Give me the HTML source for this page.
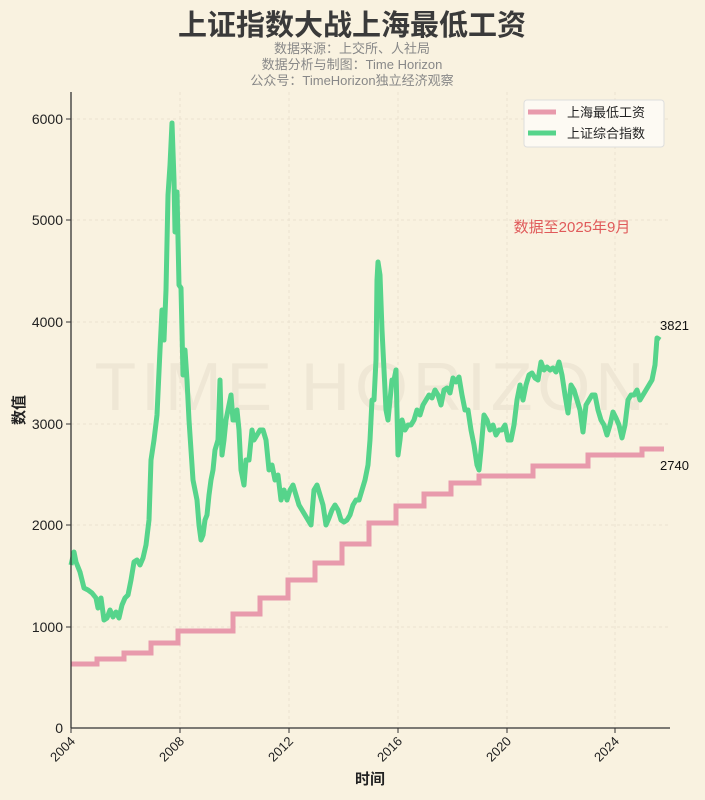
<!DOCTYPE html><html><head><meta charset="utf-8"><style>
body{margin:0;background:#f9f2e0;}
svg{display:block;font-family:"Liberation Sans","Noto Sans CJK SC",sans-serif;}
</style></head><body>
<svg width="705" height="800" viewBox="0 0 705 800">
<rect width="705" height="800" fill="#f9f2e0"/>
<text x="352" y="35" text-anchor="middle" font-size="29" font-weight="bold" fill="#3a3a3a">上证指数大战上海最低工资</text>
<text x="352" y="53" text-anchor="middle" font-size="13" fill="#888">数据来源：上交所、人社局</text>
<text x="352" y="69" text-anchor="middle" font-size="13" fill="#888">数据分析与制图：Time Horizon</text>
<text x="352" y="85" text-anchor="middle" font-size="13" fill="#888">公众号：TimeHorizon独立经济观察</text>
<g stroke="#ebe2d0" stroke-dasharray="3,3" stroke-width="1">
<line x1="71" x2="670" y1="627" y2="627"/><line x1="71" x2="670" y1="525" y2="525"/><line x1="71" x2="670" y1="424" y2="424"/><line x1="71" x2="670" y1="322" y2="322"/><line x1="71" x2="670" y1="220" y2="220"/><line x1="71" x2="670" y1="119" y2="119"/>
<line x1="180" x2="180" y1="92" y2="728"/><line x1="289" x2="289" y1="92" y2="728"/><line x1="398" x2="398" y1="92" y2="728"/><line x1="507" x2="507" y1="92" y2="728"/><line x1="615" x2="615" y1="92" y2="728"/>
</g>
<text x="372" y="410" text-anchor="middle" font-size="68" fill="#efe7d5" letter-spacing="5">TIME HORIZON</text>
<polyline fill="none" stroke="#e89aac" stroke-width="5" points="71,664 97,664 97,659 124,659 124,653 151,653 151,643 178,643 178,631 233,631 233,614 260,614 260,598 288,598 288,580 315,580 315,563 342,563 342,544 369,544 369,523 396,523 396,506 424,506 424,494 451,494 451,483 479,483 479,476 533,476 533,466 588,466 588,455 642,455 642,449 664,449"/>
<polyline fill="none" stroke="#56d48b" stroke-width="5" stroke-linejoin="round" points="71,565 74,552 76,562 80,572 84,588 88,590 92,593 96,598 98,608 101,598 104,620 107,618 110,610 113,617 116,612 119,618 122,605 125,598 128,595 131,580 134,562 137,560 140,565 143,558 146,545 149,520 151,460 154,440 157,415 160,350 162,310 164,340 166,290 168,195 170,165 172,123 174,180 175,232 177,192 179,285 181,288 183,375 185,350 187,380 189,420 191,450 193,480 195,490 197,500 199,525 201,540 203,535 205,520 207,515 209,495 211,480 213,470 215,450 218,440 220,380 222,455 224,440 226,420 228,410 231,395 233,420 235,420 237,410 239,430 241,470 244,485 246,460 249,460 252,430 254,440 257,435 260,430 263,430 266,440 269,470 272,465 275,480 278,475 281,500 284,490 287,500 290,490 293,485 296,495 299,505 302,510 305,515 308,520 311,525 314,490 317,485 320,495 323,505 326,525 329,518 332,510 335,505 338,510 341,520 344,522 347,520 350,515 353,505 356,500 359,500 362,490 365,480 368,465 370,440 372,400 374,400 376,360 377,280 378,262 380,275 382,330 384,370 386,410 388,420 390,400 392,380 394,380 396,370 398,455 400,440 402,420 405,430 408,425 411,425 414,420 417,410 420,415 423,405 426,400 429,395 432,398 435,390 438,395 441,405 444,390 447,388 450,393 453,378 456,382 459,377 462,395 465,410 468,410 471,430 474,445 477,465 479,470 481,450 484,415 487,420 490,430 493,425 496,435 499,430 502,430 505,425 508,440 511,440 514,425 517,400 520,385 523,400 526,385 529,375 532,373 535,378 538,380 541,362 544,370 547,367 550,370 553,368 556,372 559,362 562,375 565,395 568,413 571,385 574,390 577,400 580,410 583,432 586,405 589,400 592,395 595,395 598,410 601,420 604,425 607,435 610,425 613,412 616,418 619,425 622,438 625,425 628,400 631,395 634,395 637,390 640,400 643,395 646,390 649,385 652,380 655,365 657,338 660,340"/>
<line x1="71" y1="92" x2="71" y2="728" stroke="#333" stroke-width="1.3"/>
<line x1="71" y1="728" x2="670" y2="728" stroke="#333" stroke-width="1.3"/>
<g font-size="14" fill="#222" text-anchor="end">
<text x="63" y="733">0</text><text x="63" y="632">1000</text><text x="63" y="530">2000</text><text x="63" y="429">3000</text><text x="63" y="327">4000</text><text x="63" y="225">5000</text><text x="63" y="124">6000</text>
</g>
<g stroke="#333"><line x1="66" x2="71" y1="627" y2="627"/><line x1="66" x2="71" y1="525" y2="525"/><line x1="66" x2="71" y1="424" y2="424"/><line x1="66" x2="71" y1="322" y2="322"/><line x1="66" x2="71" y1="220" y2="220"/><line x1="66" x2="71" y1="119" y2="119"/>
<line x1="71" x2="71" y1="728" y2="733"/><line x1="180" x2="180" y1="728" y2="733"/><line x1="289" x2="289" y1="728" y2="733"/><line x1="398" x2="398" y1="728" y2="733"/><line x1="507" x2="507" y1="728" y2="733"/><line x1="615" x2="615" y1="728" y2="733"/></g>
<g font-size="13" fill="#222" text-anchor="end">
<text transform="translate(76,742) rotate(-45)">2004</text><text transform="translate(185,742) rotate(-45)">2008</text><text transform="translate(294,742) rotate(-45)">2012</text><text transform="translate(403,742) rotate(-45)">2016</text><text transform="translate(512,742) rotate(-45)">2020</text><text transform="translate(620,742) rotate(-45)">2024</text>
</g>
<text x="370" y="784" text-anchor="middle" font-size="15" font-weight="bold" fill="#222">时间</text>
<text transform="translate(24,410) rotate(-90)" text-anchor="middle" font-size="15" font-weight="bold" fill="#222">数值</text>
<text x="660" y="330" font-size="13" fill="#111">3821</text>
<text x="660" y="470" font-size="13" fill="#111">2740</text>
<text x="572" y="232" text-anchor="middle" font-size="15" fill="#e05a5a">数据至2025年9月</text>
<rect x="524" y="100" width="140" height="47" rx="3" fill="#fdfaf3" stroke="#ddd"/>
<line x1="528" x2="556" y1="112" y2="112" stroke="#e89aac" stroke-width="5"/>
<line x1="528" x2="556" y1="133" y2="133" stroke="#56d48b" stroke-width="5"/>
<text x="567" y="117" font-size="13" fill="#222">上海最低工资</text>
<text x="567" y="138" font-size="13" fill="#222">上证综合指数</text>
</svg></body></html>
